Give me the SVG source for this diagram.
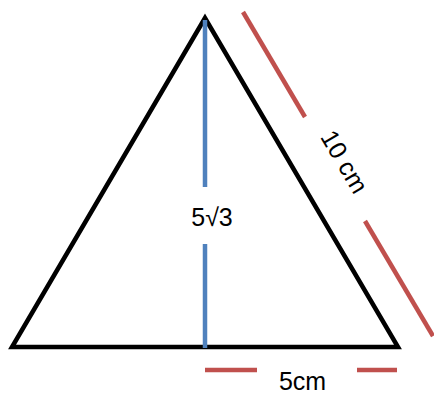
<svg xmlns="http://www.w3.org/2000/svg" width="434" height="394" viewBox="0 0 434 394">
<style>
.lbl{font-family:"Liberation Sans",Arial,sans-serif;font-size:25px;fill:#000}
.dim{stroke:#C0504D;stroke-width:4.5;fill:none}
.hgt{stroke:#4F81BD;stroke-width:4.5;fill:none}
</style>
<rect width="434" height="394" fill="#fff"/>
<g id="triangle">
<polygon points="205,18 12,347 398,347" fill="none" stroke="#000" stroke-width="4.5" stroke-linejoin="miter"/>
</g>
<g id="connectors">
<line class="hgt" x1="205" y1="20" x2="205" y2="187"/>
<line class="hgt" x1="205" y1="244" x2="205" y2="348"/>
<line class="dim" x1="243" y1="12" x2="305" y2="117"/>
<line class="dim" x1="365" y1="221" x2="433" y2="336"/>
<line class="dim" x1="205" y1="370" x2="257" y2="370"/>
<line class="dim" x1="357" y1="370" x2="397" y2="370"/>
</g>
<g id="label-height">
<text class="lbl" x="212" y="226" text-anchor="middle">5√3</text>
</g>
<g id="label-side">
<text class="lbl" x="337" y="166" text-anchor="middle" font-size="24" transform="rotate(59.5 337 166)">10 cm</text>
</g>
<g id="label-base">
<text class="lbl" x="302.5" y="390" text-anchor="middle">5cm</text>
</g>
</svg>
